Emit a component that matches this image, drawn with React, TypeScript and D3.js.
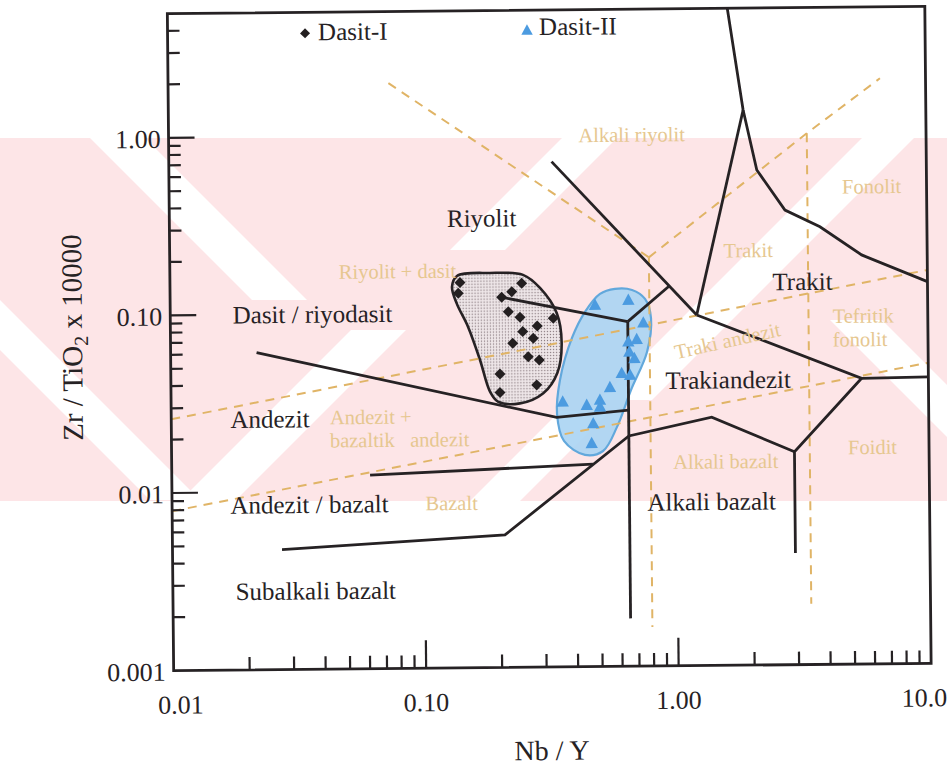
import React from "react";
import * as d3 from "d3";

// ---- axes ----
const xDomain: [number, number] = [0.01, 10];
const yDomain: [number, number] = [0.001, 5];
const xMajorTicks = [0.01, 0.1, 1, 10];
const xTickLabels = ["0.01", "0.10", "1.00", "10.0"];
const yMajorTicks = [0.001, 0.01, 0.1, 1];
const yTickLabels = ["0.001", "0.01", "0.10", "1.00"];

// ---- Winchester & Floyd field boundaries (Nb/Y, Zr/TiO2) ----
const fieldBoundaries: [number, number][][] = [
  [[1.643, 5.22], [1.89, 1.335], [2.13, 0.612], [2.744, 0.363], [3.77, 0.291], [5.5, 0.201], [10, 0.141]],
  [[1.89, 1.335], [1.216, 0.0942]],
  [[0.328, 0.7], [1.216, 0.0942]],
  [[1.216, 0.0942], [5.44, 0.0406], [10, 0.041]],
  [[5.44, 0.0406], [2.93, 0.0158], [2.93, 0.00425]],
  [[2.93, 0.0158], [1.382, 0.025], [0.648, 0.0198], [0.2076, 0.00557], [0.02715, 0.00474]],
  [[0.648, 0.0871], [0.648, 0.00186]],
  [[0.648, 0.0871], [0.949, 0.1376]],
  [[0.2025, 0.122], [0.648, 0.0871]],
  [[0.0219, 0.061], [0.336, 0.0254], [0.648, 0.0277]],
  [[0.061, 0.0123], [0.466, 0.0138]],
];

// ---- Pearce revised boundaries (dashed) ----
const pearceBoundaries: [number, number][][] = [
  [[0.0746, 1.975], [0.79, 0.2]],
  [[0.79, 0.2], [3.37, 0.979], [6.6, 1.98]],
  [[3.37, 0.979], [3.37, 0.0022]],
  [[0.79, 0.2], [0.79, 0.00166]],
  [[0.01, 0.026], [10, 0.164]],
  [[0.01, 0.0079], [10, 0.0493]],
];

// ---- samples ----
const dasit1: [number, number][] = [
  [0.1408, 0.1476], [0.1385, 0.1286], [0.2471, 0.1453], [0.2256, 0.1304], [0.2057, 0.1215],
  [0.2183, 0.1006], [0.2427, 0.0935], [0.3286, 0.0919], [0.2838, 0.0833], [0.2485, 0.0776],
  [0.2734, 0.0711], [0.2266, 0.0668], [0.2607, 0.056], [0.2883, 0.0536], [0.2012, 0.0449],
  [0.281, 0.0388], [0.2009, 0.0353],
];
const dasit2: [number, number][] = [
  [0.6527, 0.1154], [0.4813, 0.1086], [0.7468, 0.0858], [0.6503, 0.0672], [0.7021, 0.0693],
  [0.6556, 0.059], [0.6862, 0.0542], [0.6105, 0.0447], [0.6586, 0.0436], [0.5477, 0.0373],
  [0.3556, 0.0311], [0.4426, 0.0297], [0.4995, 0.0317], [0.4995, 0.029], [0.469, 0.0234],
  [0.4614, 0.0181],
];
const dasit1Envelope: [number, number][] = [
  [0.1371, 0.1609], [0.1852, 0.1666], [0.2503, 0.1618], [0.2919, 0.1364], [0.3393, 0.0984],
  [0.354, 0.0666], [0.3394, 0.0452], [0.2981, 0.0348], [0.2408, 0.0306], [0.197, 0.0314],
  [0.1834, 0.0358], [0.1679, 0.054], [0.1509, 0.0833], [0.1364, 0.1128], [0.1309, 0.1396],
];
const dasit2Envelope: [number, number][] = [
  [0.5042, 0.1252], [0.5786, 0.1334], [0.6755, 0.1313], [0.7601, 0.1167], [0.8013, 0.0911],
  [0.7703, 0.0587], [0.6634, 0.0359], [0.5823, 0.0223], [0.5116, 0.01634], [0.4337, 0.01556],
  [0.3585, 0.0187], [0.3373, 0.02655], [0.3475, 0.0412], [0.3891, 0.071], [0.4393, 0.0994],
];

// ---- field names: [text, Nb/Y, Zr/TiO2, anchor, angle] ----
const fieldNames: [string, number, number, string, number][] = [
  ["Riyolit", 0.1725, 0.304, "middle", 0],
  ["Dasit / riyodasit", 0.0366, 0.0894, "middle", 0],
  ["Andezit", 0.0246, 0.02305, "middle", 0],
  ["Andezit / bazalt", 0.035, 0.00759, "middle", 0],
  ["Subalkali bazalt", 0.0368, 0.002475, "middle", 0],
  ["Trakit", 3.2, 0.1286, "middle", 0],
  ["Trakiandezit", 1.611, 0.03627, "middle", 0],
  ["Alkali bazalt", 1.371, 0.0075, "middle", 0],
];
const pearceNames: [string, number, number, string, number][] = [
  ["Alkali riyolit", 0.6824, 0.898, "middle", 0],
  ["Riyolit + dasit", 0.0797, 0.1574, "middle", 0],
  ["Trakit", 1.956, 0.1978, "middle", 0],
  ["Fonolit", 6.06, 0.4464, "middle", 0],
  ["Tefritik", 5.55, 0.0835, "middle", 0],
  ["fonolit", 5.38, 0.0615, "middle", 0],
  ["Traki andezit", 1.627, 0.0616, "middle", -12],
  ["Andezit +", 0.0425, 0.0239, "start", 0],
  ["bazaltik\u00a0\u00a0 andezit", 0.0424, 0.0177, "start", 0],
  ["Alkali bazalt", 1.565, 0.01285, "middle", 0],
  ["Bazalt", 0.128, 0.00774, "middle", 0],
  ["Foidit", 5.97, 0.0152, "middle", 0],
];

const INK = "#262224";
const PEARCE_TEXT = "#e6c790";
const PEARCE_LINE = "#e0b466";
const FONT = '"Liberation Serif", "DejaVu Serif", "Times New Roman", serif';

// background stamp band with diagonal light stripes
const stampStripes: [number, number][][] = [
  [[90, 138], [145, 138], [307, 300], [252, 300]],
  [[180, 501], [235, 501], [406, 330], [351, 330]],
  [[450, 250], [505, 250], [617, 138], [562, 138]],
  [[600, 400], [652, 400], [914, 138], [862, 138]],
  [[830, 320], [882, 320], [1063, 501], [1011, 501]],
  [[470, 501], [520, 501], [610, 411], [560, 411]],
  [[0, 300], [0, 350], [150, 500], [200, 500]],
];

export default function App() {
  const W = 947;
  const H = 765;
  const left = 170.5, right = 928, top = 10, bottom = 667;
  const x = d3.scaleLog().domain(xDomain).range([left, right]);
  const y = d3.scaleLog().domain(yDomain).range([bottom, top]);
  const line = d3.line<[number, number]>().x((d) => x(d[0])).y((d) => y(d[1]));
  const envelope = d3
    .line<[number, number]>()
    .x((d) => x(d[0]))
    .y((d) => y(d[1]))
    .curve(d3.curveCatmullRomClosed.alpha(0.5));

  const xMinor: number[] = [];
  [0.01, 0.1, 1].forEach((dec) => {
    for (let m = 2; m <= 9; m++) xMinor.push(m * dec);
  });
  const yMinor: number[] = [];
  [0.001, 0.01, 0.1, 1].forEach((dec) => {
    for (let m = 2; m <= 9; m++) if (m * dec < yDomain[1]) yMinor.push(m * dec);
  });

  const diamond = (cx: number, cy: number, r: number) =>
    `M${cx},${cy - r}L${cx + r},${cy}L${cx},${cy + r}L${cx - r},${cy}Z`;
  const triangle = (cx: number, cy: number, r: number) =>
    `M${cx},${cy - r}L${cx + r * 0.95},${cy + r * 0.75}L${cx - r * 0.95},${cy + r * 0.75}Z`;

  const txt = { fontFamily: FONT };

  return (
    <svg
      width={W}
      height={H}
      viewBox={`0 0 ${W} ${H}`}
      style={{ position: "absolute", left: 0, top: 0, background: "#fff", fontFamily: FONT }}
    >
      <defs>
        <clipPath id="plot-clip">
          <rect x={left} y={top} width={right - left} height={bottom - top} />
        </clipPath>
        <clipPath id="band-clip">
          <rect x={0} y={138} width={W} height={363} />
        </clipPath>
        <pattern id="stipple" width={3} height={3} patternUnits="userSpaceOnUse">
          <rect width={3} height={3} fill="#eee6e8" />
          <circle cx={1.5} cy={1.5} r={0.7} fill="#8a7b80" />
        </pattern>
      </defs>

      {/* stamp band */}
      <g clipPath="url(#band-clip)">
        <rect x={0} y={138} width={W} height={363} fill="#fde5e7" />
        {stampStripes.map((p, i) => (
          <polygon key={i} points={p.map((q) => q.join(",")).join(" ")} fill="#ffffff" />
        ))}
      </g>

      <g transform="rotate(-0.55 550 340)">
        {/* sample envelopes */}
        <g clipPath="url(#plot-clip)">
          <path d={envelope(dasit1Envelope) ?? ""} fill="url(#stipple)" stroke={INK} strokeWidth={2.6} />
          <path
            d={envelope(dasit2Envelope) ?? ""}
            fill="#abd5f3"
            fillOpacity={0.92}
            stroke="#62a8dc"
            strokeWidth={2.2}
          />

          {/* Pearce dashed boundaries */}
          {pearceBoundaries.map((seg, i) => (
            <path
              key={i}
              d={line(seg) ?? ""}
              fill="none"
              stroke={PEARCE_LINE}
              strokeWidth={2}
              strokeDasharray="9 7"
            />
          ))}

          {/* field boundaries */}
          {fieldBoundaries.map((seg, i) => (
            <path
              key={i}
              d={line(seg) ?? ""}
              fill="none"
              stroke={INK}
              strokeWidth={2.8}
              strokeLinejoin="miter"
            />
          ))}

          {dasit1.map((d, i) => (
            <path key={i} d={diamond(x(d[0]), y(d[1]), 5.5)} fill="#231f20" />
          ))}
          {dasit2.map((d, i) => (
            <path key={i} d={triangle(x(d[0]), y(d[1]), 6.5)} fill="#4c9be0" />
          ))}
        </g>

        {/* frame */}
        <rect
          x={left}
          y={top}
          width={right - left}
          height={bottom - top}
          fill="none"
          stroke={INK}
          strokeWidth={2.8}
        />

        {/* ticks */}
        {xMinor.map((v, i) => (
          <line key={"xm" + i} x1={x(v)} x2={x(v)} y1={bottom} y2={bottom - 13} stroke={INK} strokeWidth={2.2} />
        ))}
        {xMajorTicks.slice(1, 3).map((v, i) => (
          <line key={"xM" + i} x1={x(v)} x2={x(v)} y1={bottom} y2={bottom - 28} stroke={INK} strokeWidth={2.2} />
        ))}
        {yMinor.map((v, i) => (
          <line key={"ym" + i} x1={left} x2={left + 12} y1={y(v)} y2={y(v)} stroke={INK} strokeWidth={2.2} />
        ))}
        {yMajorTicks.slice(1).map((v, i) => (
          <line key={"yM" + i} x1={left} x2={left + 26} y1={y(v)} y2={y(v)} stroke={INK} strokeWidth={2.2} />
        ))}

        {/* tick labels */}
        {xMajorTicks.map((v, i) => (
          <text
            key={"xl" + i}
            style={txt}
            x={x(v) + (i === 0 ? 7 : i === 3 ? -7 : 0)}
            y={bottom + 43}
            fontSize={26}
            textAnchor="middle"
            fill={INK}
          >
            {xTickLabels[i]}
          </text>
        ))}
        {yMajorTicks.map((v, i) => (
          <text key={"yl" + i} style={txt} x={left - 8} y={y(v) + 10} fontSize={26} textAnchor="end" fill={INK}>
            {yTickLabels[i]}
          </text>
        ))}

        {/* axis titles */}
        <text style={txt} x={548} y={760} fontSize={28} textAnchor="middle" fill={INK}>
          Nb / Y
        </text>
        <text style={txt} x={82} y={333} fontSize={29} textAnchor="middle" fill={INK} transform="rotate(-90 82 333)">
          Zr / TiO<tspan fontSize={20} dy={6}>2</tspan>
          <tspan dy={-6}> x 10000</tspan>
        </text>

        {/* field names */}
        {pearceNames.map(([t, a, b, anchor, ang], i) => (
          <text
            key={"p" + i}
            style={txt}
            x={x(a)}
            y={y(b)}
            fontSize={20.5}
            textAnchor={anchor}
            fill={PEARCE_TEXT}
            transform={ang ? `rotate(${ang} ${x(a)} ${y(b)})` : undefined}
          >
            {t}
          </text>
        ))}
        {fieldNames.map(([t, a, b, anchor], i) => (
          <text key={"f" + i} style={txt} x={x(a)} y={y(b)} fontSize={25} textAnchor={anchor} fill={INK}>
            {t}
          </text>
        ))}

        {/* legend */}
        <path d={diamond(308, 31, 5)} fill="#231f20" />
        <text style={txt} x={321} y={38} fontSize={25} fill={INK}>
          Dasit-I
        </text>
        <path d={triangle(530, 30, 6)} fill="#4c9be0" />
        <text style={txt} x={542} y={35} fontSize={25} fill={INK}>
          Dasit-II
        </text>
      </g>
    </svg>
  );
}
